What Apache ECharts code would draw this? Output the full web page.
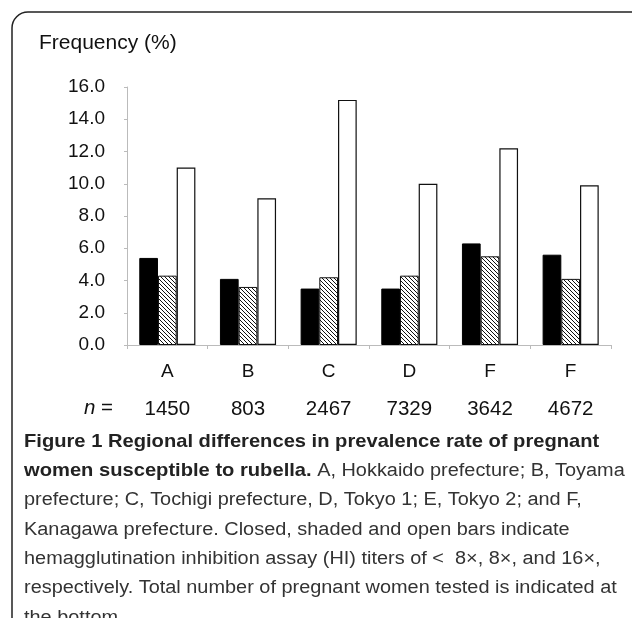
<!DOCTYPE html>
<html>
<head>
<meta charset="utf-8">
<script src="https://cdn.jsdelivr.net/npm/echarts@6/dist/echarts.min.js"></script>
<style>
  html, body { margin: 0; padding: 0; background: #fff; }
  #chart { width: 632px; height: 618px; }
</style>
</head>
<body>
<div id="chart"></div>
<script>
  // data
  var regions = ['A', 'B', 'C', 'D', 'F', 'F'];
  var sampleSizes = ['1450', '803', '2467', '7329', '3642', '4672'];
  var closedBars = [5.4, 4.1, 3.5, 3.5, 6.3, 5.6];   // HI < 8x
  var shadedBars = [4.3, 3.6, 4.2, 4.3, 5.5, 4.1];   // HI 8x
  var openBars = [11.0, 9.1, 15.2, 10.0, 12.2, 9.9]; // HI 16x
  var yTicks = { min: 0, max: 16, interval: 2 };

  var FONT = '"Liberation Sans", Arial, sans-serif';

  // diagonal hatch for the shaded bars
  function hatch() {
    var c = document.createElement('canvas');
    c.width = 4; c.height = 4;
    var ctx = c.getContext('2d');
    ctx.fillStyle = '#fff';
    ctx.fillRect(0, 0, 4, 4);
    ctx.strokeStyle = '#111';
    ctx.lineWidth = 1;
    ctx.beginPath();
    ctx.moveTo(-1, -1); ctx.lineTo(5, 5);
    ctx.moveTo(-1, 3); ctx.lineTo(1, 5);
    ctx.moveTo(3, -1); ctx.lineTo(5, 1);
    ctx.stroke();
    return c;
  }

  var chart = echarts.init(document.getElementById('chart'), null, { renderer: 'canvas' });

  var barBase = {
    type: 'bar',
    barWidth: 18.7,
    barGap: '0%',
    animation: false,
    silent: true
  };

  chart.setOption({
    backgroundColor: '#fff',
    animation: false,
    textStyle: { fontFamily: FONT },
    title: {
      text: 'Frequency (%)',
      left: 34,
      top: 28,
      textStyle: { fontFamily: FONT, fontSize: 21, fontWeight: 'normal', color: '#111' }
    },
    grid: { left: 127, right: 21, top: 87, bottom: 273 },
    xAxis: [{
      type: 'category',
      data: regions,
      axisLine: { lineStyle: { color: '#bbb', width: 1 } },
      axisTick: { show: true, length: 4, lineStyle: { color: '#bbb' } },
      axisLabel: { fontSize: 19, color: '#111', margin: 17 }
    }, {
      type: 'category',
      data: sampleSizes,
      position: 'bottom',
      axisLine: { show: false },
      axisTick: { show: false },
      axisLabel: { fontSize: 20.5, color: '#111', margin: 54 }
    }],
    yAxis: {
      type: 'value',
      min: yTicks.min,
      max: yTicks.max,
      interval: yTicks.interval,
      axisLine: { show: true, lineStyle: { color: '#bbb', width: 1 } },
      axisTick: { show: true, length: 3, lineStyle: { color: '#bbb' } },
      splitLine: { show: false },
      axisLabel: {
        fontSize: 19, color: '#111', margin: 22,
        formatter: function (v) { return v.toFixed(1); }
      }
    },
    series: [
      Object.assign({ name: '<8x', data: closedBars,
        itemStyle: { color: '#000', borderColor: '#000', borderWidth: 1 } }, barBase),
      Object.assign({ name: '8x', data: shadedBars,
        itemStyle: { color: { image: hatch(), repeat: 'repeat' }, borderColor: '#111', borderWidth: 1 } }, barBase),
      Object.assign({ name: '16x', data: openBars,
        itemStyle: { color: '#fff', borderColor: '#111', borderWidth: 1.2 } }, barBase)
    ],
    graphic: [
      {
        type: 'rect',
        shape: { x: 12, y: 12, width: 700, height: 700, r: 16 },
        style: { fill: null, stroke: '#222', lineWidth: 1.5 },
        silent: true
      },
      {
        type: 'text',
        left: 84,
        top: 398,
        style: {
          text: '{i|n} =',
          font: '20.5px ' + FONT,
          fill: '#111',
          rich: { i: { fontStyle: 'italic', fontSize: 20.5, fontFamily: FONT } }
        }
      },
      {
        type: 'text',
        x: 24,
        y: 427,
        scaleX: 1.06,
        style: {
          text: [
            '{b|Figure 1 Regional differences in prevalence rate of pregnant}',
            '{b|women susceptible to rubella.}{r| A, Hokkaido prefecture; B, Toyama}',
            '{r|prefecture; C, Tochigi prefecture, D, Tokyo 1; E, Tokyo 2; and F,}',
            '{r|Kanagawa prefecture. Closed, shaded and open bars indicate}',
            '{r|hemagglutination inhibition assay (HI) titers of <  8\u00d7, 8\u00d7, and 16\u00d7,}',
            '{r|respectively. Total number of pregnant women tested is indicated at}',
            '{r|the bottom.}'
          ].join('\n'),
          fill: '#222',
          rich: {
            b: { fontFamily: FONT, fontWeight: 'bold', fontSize: 19, lineHeight: 29.3, fill: '#222' },
            r: { fontFamily: FONT, fontSize: 18.8, lineHeight: 29.3, fill: '#333' }
          }
        }
      }
    ]
  });
</script>
</body>
</html>
